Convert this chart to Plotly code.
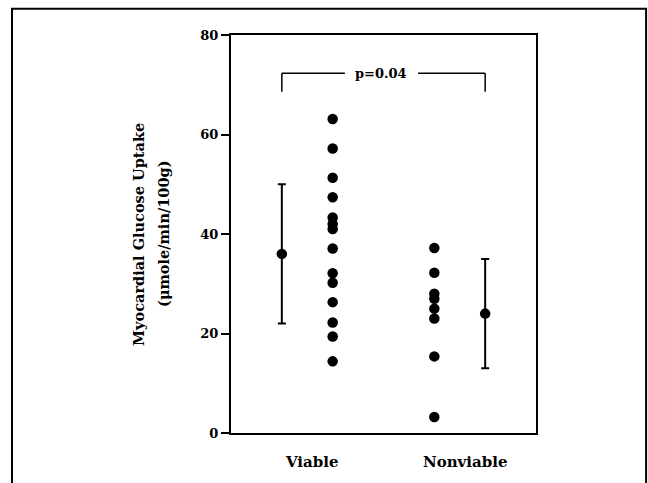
import plotly.graph_objects as go

# ---- data ----
categories = ["Viable", "Nonviable"]
viable_values = [63.1, 57.2, 51.3, 47.4, 43.3, 42.0, 41.0, 37.1, 32.1, 30.2, 26.3, 22.2, 19.4, 14.4]
nonviable_values = [37.2, 32.2, 28.0, 27.0, 25.0, 23.0, 15.4, 3.2]
group_means = [36.0, 24.0]
group_sds = [14.0, 11.0]
y_ticks = [0, 20, 40, 60, 80]
p_label = "p=0.04"
y_title_lines = ["Myocardial Glucose Uptake", "(\u03bcmole/min/100g)"]

# ---- layout positions (x-axis units) ----
scatter_x = [2.0, 4.0]
mean_x = [1.0, 5.0]
label_x = [1.6, 4.62]
bracket_y_top = 72.3
bracket_y_bottom = 68.6

FONT = "DejaVu Serif"
BLACK = "black"

fig = go.Figure()

fig.add_trace(go.Scatter(
    x=[scatter_x[0]] * len(viable_values), y=viable_values, mode="markers",
    marker=dict(color=BLACK, size=10.5), showlegend=False, hoverinfo="y"))
fig.add_trace(go.Scatter(
    x=[scatter_x[1]] * len(nonviable_values), y=nonviable_values, mode="markers",
    marker=dict(color=BLACK, size=10.5), showlegend=False, hoverinfo="y"))

fig.add_trace(go.Scatter(
    x=mean_x, y=group_means, mode="markers",
    marker=dict(color=BLACK, size=10.5),
    error_y=dict(type="data", array=group_sds, visible=True, color=BLACK, thickness=2, width=4),
    showlegend=False, hoverinfo="y"))

# significance bracket
shapes = []
line_style = dict(color=BLACK, width=1.5)
shapes.append(dict(type="line", xref="x", yref="y", x0=mean_x[0], x1=mean_x[0],
                   y0=bracket_y_bottom, y1=bracket_y_top, line=line_style))
shapes.append(dict(type="line", xref="x", yref="y", x0=mean_x[0], x1=2.24,
                   y0=bracket_y_top, y1=bracket_y_top, line=line_style))
shapes.append(dict(type="line", xref="x", yref="y", x0=3.68, x1=mean_x[1],
                   y0=bracket_y_top, y1=bracket_y_top, line=line_style))
shapes.append(dict(type="line", xref="x", yref="y", x0=mean_x[1], x1=mean_x[1],
                   y0=bracket_y_bottom, y1=bracket_y_top, line=line_style))
# outer figure border (plot area: x 231..536, y 35..433 px)
shapes.append(dict(type="rect", xref="paper", yref="paper",
                   x0=-0.718, x1=1.361, y0=-0.2, y1=1.066,
                   line=dict(color=BLACK, width=2)))

annotations = [
    dict(x=2.96, y=bracket_y_top, xref="x", yref="y", text="<b>" + p_label + "</b>",
         showarrow=False, font=dict(family=FONT, size=13, color=BLACK),
         xanchor="center", yanchor="middle"),
]
for px, line in zip([-0.305, -0.223], y_title_lines):
    annotations.append(dict(x=px, y=0.5, xref="paper", yref="paper", text="<b>" + line + "</b>",
                            showarrow=False, textangle=-90,
                            font=dict(family=FONT, size=14.5, color=BLACK),
                            xanchor="center", yanchor="middle"))
for cx, name in zip(label_x, categories):
    annotations.append(dict(x=cx, y=-0.045, xref="x", yref="paper", text="<b>" + name + "</b>",
                            showarrow=False, font=dict(family=FONT, size=15, color=BLACK),
                            xanchor="center", yanchor="top"))

fig.update_layout(
    width=648, height=483,
    margin=dict(l=231, r=112, t=35, b=50),
    paper_bgcolor="white", plot_bgcolor="white",
    shapes=shapes, annotations=annotations,
    xaxis=dict(range=[0, 6], showgrid=False, zeroline=False, showticklabels=False,
               ticks="", showline=True, mirror=True, linecolor=BLACK, linewidth=2,
               fixedrange=True),
    yaxis=dict(range=[0, 80], tickvals=y_ticks, ticktext=["<b>%d</b>" % v for v in y_ticks],
               showgrid=False, zeroline=False, ticks="outside", ticklen=8, tickwidth=2,
               tickcolor=BLACK, showline=True, mirror=True, linecolor=BLACK, linewidth=2,
               tickfont=dict(family=FONT, size=13, color=BLACK), fixedrange=True),
    font=dict(family=FONT, color=BLACK),
)

fig.write_html("out.html", config={"displayModeBar": False},
               post_script="document.body.style.margin='0';document.body.style.overflow='hidden';")
